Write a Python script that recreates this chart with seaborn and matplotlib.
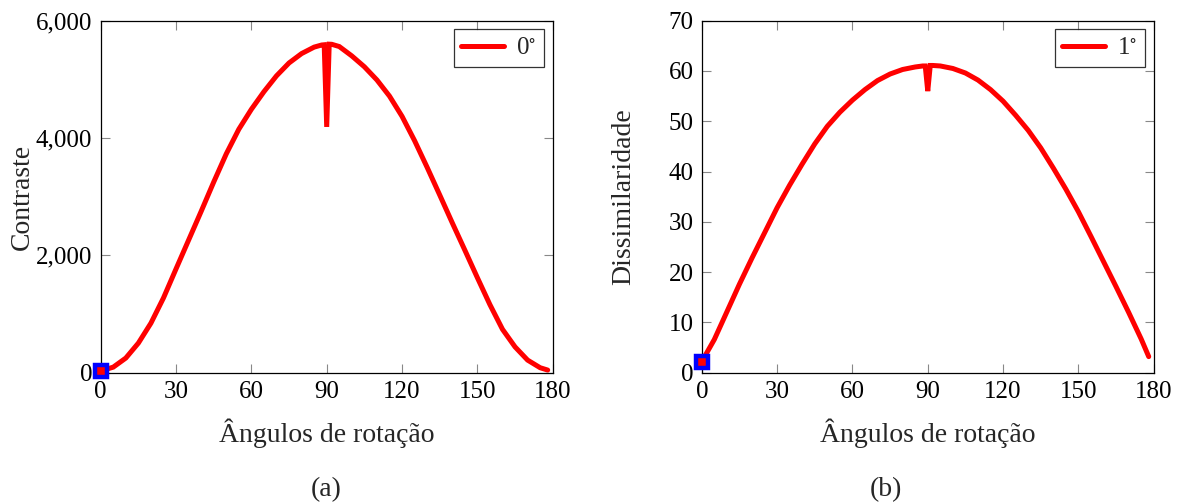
import matplotlib
matplotlib.use("Agg")
import matplotlib.pyplot as plt
import matplotlib.ticker as mticker
import seaborn as sns
import pandas as pd

# ---- data ----
angles_a = [0, 5, 10, 15, 20, 25, 30, 35, 40, 45, 50, 55, 60, 65, 70, 75, 80, 85, 88, 89,
            90, 91, 92, 95, 100, 105, 110, 115, 120, 125, 130, 135, 140, 145, 150, 155,
            160, 165, 170, 175, 178]
contraste = [30, 95, 250, 505, 845, 1275, 1770, 2260, 2750, 3250, 3730, 4150, 4490, 4790,
             5060, 5280, 5440, 5550, 5586, 5590, 4190, 5600, 5598, 5560, 5400, 5215, 4990,
             4715, 4370, 3955, 3500, 3030, 2555, 2090, 1620, 1160, 740, 440, 215, 85, 45]

angles_b = [0, 5, 10, 15, 20, 25, 30, 35, 40, 45, 50, 55, 60, 65, 70, 75, 80, 85, 88, 89,
            90, 91, 92, 95, 100, 105, 110, 115, 120, 125, 130, 135, 140, 145, 150, 155,
            160, 165, 170, 175, 178]
dissimilaridade = [2.2, 6.6, 12.1, 17.6, 22.8, 27.8, 32.8, 37.3, 41.5, 45.5, 49.0, 51.8,
                   54.2, 56.3, 58.1, 59.4, 60.3, 60.8, 61.0, 61.0, 56.0, 61.1, 61.1, 61.0,
                   60.5, 59.6, 58.2, 56.3, 54.0, 51.2, 48.2, 44.7, 40.7, 36.5, 32.0, 27.1,
                   22.1, 17.1, 12.0, 6.7, 3.2]

x_ticks = [0, 30, 60, 90, 120, 150, 180]
yticks_a = [0, 2000, 4000, 6000]
yticks_b = [0, 10, 20, 30, 40, 50, 60, 70]
legend_a = "0$^{\\circ}$"
legend_b = "1$^{\\circ}$"
xlabel = "Ângulos de rotação"
ylabel_a = "Contraste"
ylabel_b = "Dissimilaridade"
captions = ["(a)", "(b)"]

sns.set_theme(style="ticks")
plt.rcParams["font.family"] = ["Liberation Serif", "DejaVu Serif"]
plt.rcParams["mathtext.fontset"] = "stix"

FS_TICK = 18
FS_LAB = 20
fig = plt.figure(figsize=(11.82, 5.04), dpi=100)
ax1 = fig.add_axes([0.0852, 0.2605, 0.3824, 0.6984])
ax2 = fig.add_axes([0.5937, 0.2605, 0.3824, 0.6984])

dfa = pd.DataFrame({"ang": angles_a, "val": contraste})
dfb = pd.DataFrame({"ang": angles_b, "val": dissimilaridade})

for ax, df, lab, yt, ylim, ylab in [
    (ax1, dfa, legend_a, yticks_a, (0, 6000), ylabel_a),
    (ax2, dfb, legend_b, yticks_b, (0, 70), ylabel_b),
]:
    sns.lineplot(data=df, x="ang", y="val", ax=ax, color="red", lw=3.6,
                 label=lab, solid_capstyle="round", solid_joinstyle="miter")
    ax.plot(df["ang"].iloc[0], df["val"].iloc[0], marker="s", ms=9, mew=3.2,
            mfc="red", mec="blue", ls="none", clip_on=False, zorder=5)
    ax.set_xlim(0, 180)
    ax.set_ylim(*ylim)
    ax.set_xticks(x_ticks)
    ax.set_yticks(yt)
    ax.tick_params(direction="in", length=6.5, width=0.8, color="#888888",
                   labelsize=FS_TICK, top=True, right=True, pad=6, labelcolor="black")
    for s in ax.spines.values():
        s.set_visible(True)
        s.set_color("black")
        s.set_linewidth(0.9)
    ax.set_xlabel(xlabel, fontsize=FS_LAB, labelpad=11)
    ax.set_ylabel(ylab, fontsize=FS_LAB)
    leg = ax.legend(loc="upper right", fontsize=FS_TICK, frameon=True, fancybox=False,
                    edgecolor="black", handlelength=1.7, handletextpad=0.5,
                    borderpad=0.3, borderaxespad=0.35)
    leg.get_frame().set_linewidth(0.9)

ax1.yaxis.set_major_formatter(mticker.FuncFormatter(lambda v, p: f"{v:,.0f}"))
ax1.yaxis.set_label_coords(-0.145, 0.5)
ax2.yaxis.set_label_coords(-0.145, 0.5)

fig.text(326 / 1182, 1 - 490 / 504, captions[0], fontsize=FS_LAB, ha="center", va="center")
fig.text(886 / 1182, 1 - 490 / 504, captions[1], fontsize=FS_LAB, ha="center", va="center")

fig.savefig("out.png", dpi=100)
